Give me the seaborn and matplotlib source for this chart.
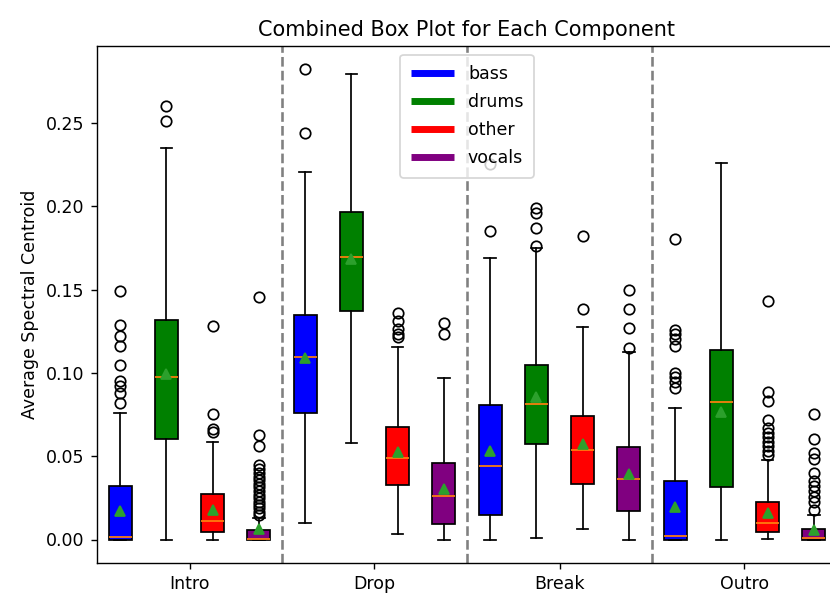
import matplotlib
matplotlib.use("Agg")
import matplotlib.pyplot as plt
from matplotlib.lines import Line2D
import seaborn as sns

sections = ["Intro", "Drop", "Break", "Outro"]
components = ["bass", "drums", "other", "vocals"]
palette = sns.color_palette(["blue", "green", "red", "purple"])

# summary statistics, order: section-major, component-minor
q1 = [0.0000, 0.0604, 0.0045, 0.0000,
      0.0757, 0.1371, 0.0330, 0.0092,
      0.0146, 0.0574, 0.0336, 0.0171,
      0.0000, 0.0313, 0.0045, 0.0000]
median = [0.0014, 0.0976, 0.0112, 0.0006,
          0.1096, 0.1696, 0.0488, 0.0264,
          0.0441, 0.0814, 0.0539, 0.0366,
          0.0022, 0.0828, 0.0102, 0.0008]
q3 = [0.0319, 0.1316, 0.0273, 0.0055,
      0.1347, 0.1963, 0.0675, 0.0462,
      0.0807, 0.1048, 0.0742, 0.0553,
      0.0350, 0.1139, 0.0224, 0.0065]
whisker_lo = [0.0000, 0.0000, 0.0000, 0.0000,
              0.0102, 0.0580, 0.0035, 0.0000,
              0.0000, 0.0008, 0.0061, 0.0000,
              0.0000, 0.0000, 0.0006, 0.0000]
whisker_hi = [0.0759, 0.2349, 0.0588, 0.0130,
              0.2205, 0.2791, 0.1157, 0.0970,
              0.1692, 0.1747, 0.1275, 0.1123,
              0.0787, 0.2262, 0.0480, 0.0150]
means = [0.0173, 0.0991, 0.0177, 0.0065,
         0.1092, 0.1686, 0.0523, 0.0303,
         0.0533, 0.0858, 0.0574, 0.0391,
         0.0197, 0.0767, 0.0157, 0.0055]
fliers = [
    [0.149, 0.129, 0.122, 0.116, 0.105, 0.095, 0.092, 0.088, 0.082],
    [0.2604, 0.2512],
    [0.1283, 0.0753, 0.0665, 0.0645],
    [0.1454, 0.0629, 0.0563, 0.0445, 0.0425, 0.0401, 0.0376, 0.0360, 0.0336,
     0.0315, 0.0289, 0.0269, 0.0248, 0.0228, 0.0208, 0.0187, 0.0167, 0.0146],
    [0.2821, 0.2441],
    [],
    [0.1361, 0.1312, 0.1261, 0.1235, 0.1214],
    [0.1300, 0.1231],
    [0.2252, 0.1849],
    [0.1991, 0.1957, 0.1869, 0.1759],
    [0.1820, 0.1383],
    [0.1495, 0.1383, 0.1269, 0.1147],
    [0.1804, 0.1259, 0.1235, 0.1204, 0.1163, 0.1001, 0.0976, 0.0946, 0.0909],
    [],
    [0.1432, 0.0883, 0.0832, 0.0716, 0.0669, 0.0641, 0.0614, 0.0588, 0.0563,
     0.0533, 0.0506],
    [0.0753, 0.0604, 0.0519, 0.0482, 0.0401, 0.0350, 0.0319, 0.0289, 0.0258,
     0.0228, 0.0177],
]

stats = []
for i in range(len(q1)):
    stats.append(dict(q1=q1[i], med=median[i], q3=q3[i], whislo=whisker_lo[i],
                      whishi=whisker_hi[i], mean=means[i], fliers=fliers[i]))

fig = plt.figure(figsize=(6.64, 4.744), dpi=125)
ax = fig.add_axes([97 / 830, 30 / 593, 740 / 830, 517 / 593])

n = len(components)
positions = list(range(1, len(stats) + 1))
bp = ax.bxp(stats, positions=positions, widths=0.5, patch_artist=True,
            showmeans=True)
for i, patch in enumerate(bp["boxes"]):
    patch.set_facecolor(palette[i % n])

for k in range(1, len(sections)):
    ax.axvline(k * n + 0.5, color="gray", linestyle="--")

ax.set_xlim(0.5, len(stats) + 0.5)
ax.set_xticks([k * n + (n + 1) / 2 for k in range(len(sections))])
ax.set_xticklabels(sections)
ax.set_ylabel("Average Spectral Centroid")
ax.set_title("Combined Box Plot for Each Component")

handles = [Line2D([0], [0], color=palette[j], lw=4, solid_capstyle="butt")
           for j in range(n)]
ax.legend(handles, components, loc="upper center", handlelength=2.5,
          labelspacing=0.58, borderpad=0.6)

fig.savefig("out.png", dpi=125)
